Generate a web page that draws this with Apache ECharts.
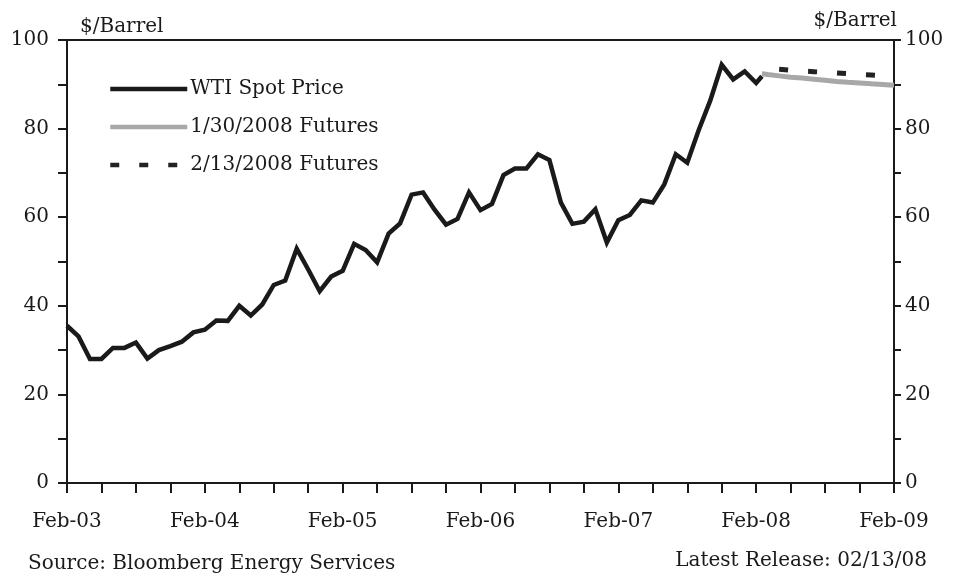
<!DOCTYPE html>
<html>
<head>
<meta charset="utf-8">
<script src="https://cdn.jsdelivr.net/npm/echarts@6/dist/echarts.min.js"></script>
<style>
  html, body { margin: 0; padding: 0; background: #fff; }
  #chart { width: 953px; height: 575px; }
</style>
</head>
<body>
<div id="chart"></div>
<script>
// x axis runs in months counted from Feb-03
const yearLabels = ["Feb-03", "Feb-04", "Feb-05", "Feb-06", "Feb-07", "Feb-08", "Feb-09"];

// WTI spot, monthly Feb-03 .. Feb-08
const spotPrice = [
  35.5, 33.1, 28.0, 28.0, 30.5, 30.5, 31.7, 28.1, 30.0, 30.9, 31.9, 34.0,
  34.6, 36.7, 36.6, 40.0, 37.8, 40.3, 44.7, 45.7, 52.9, 48.2, 43.3, 46.6,
  47.9, 54.0, 52.6, 49.8, 56.3, 58.6, 65.1, 65.6, 61.7, 58.3, 59.6, 65.6,
  61.6, 63.0, 69.5, 71.0, 71.0, 74.2, 72.9, 63.3, 58.5, 59.0, 61.8, 54.3,
  59.3, 60.5, 63.8, 63.3, 67.4, 74.2, 72.3, 79.7, 86.3, 94.4, 91.1, 92.9,
  90.3
];
// latest daily spot (mid Feb-08)
const spotLatestMonth = 60.5;
const spotLatest = 91.8;

// futures curves
const futures0130Months = [60.5, 61, 62, 63, 64, 65, 66, 67, 68, 69, 70, 71, 72];
const futures0130 = [92.4, 92.2, 91.9, 91.6, 91.4, 91.15, 90.9, 90.65, 90.45, 90.3, 90.1, 89.95, 89.8];
const futures0213Months = [62, 63, 64, 65, 66, 67, 68, 69, 70, 71];
const futures0213 = [93.4, 93.2, 93.0, 92.85, 92.7, 92.55, 92.4, 92.25, 92.1, 91.95];

const FONT = "DejaVu Serif";
const INK = "#1a1a1a";

const chart = echarts.init(document.getElementById("chart"), null, { renderer: "canvas" });

const spotData = spotPrice.map((v, i) => [i, v]);
spotData.push([spotLatestMonth, spotLatest]);

function yAxisFor(side) {
  const left = side === "left";
  return {
    type: "value",
    position: side,
    min: 0,
    max: 100,
    interval: 10,
    splitLine: { show: false },
    axisLine: { show: true, lineStyle: { color: INK, width: 2 } },
    axisTick: { show: true, inside: false, length: left ? 9 : 7, lineStyle: { color: INK, width: 2 } },
    axisLabel: {
      color: INK,
      fontFamily: FONT,
      fontSize: 20,
      margin: left ? 18 : 11,
      formatter: (v) => (v % 20 === 0 ? String(v) : "")
    }
  };
}

const textStyle = { fontFamily: FONT, fontSize: 20, fontWeight: "normal", color: INK };

const option = {
  backgroundColor: "#fff",
  animation: false,
  grid: {
    left: 67,
    right: 59,
    top: 40,
    bottom: 92,
    show: true,
    borderColor: INK,
    borderWidth: 2,
    backgroundColor: "transparent"
  },
  title: [
    { text: "$/Barrel", left: 80, top: 17, padding: 0, textStyle },
    { text: "$/Barrel", right: 56, top: 11, padding: 0, textStyle },
    { text: "Source: Bloomberg Energy Services", left: 28, top: 554, padding: 0, textStyle },
    { text: "Latest Release: 02/13/08", right: 26, top: 551, padding: 0, textStyle }
  ],
  legend: {
    orient: "vertical",
    left: 108,
    top: 79,
    padding: 0,
    itemWidth: 77,
    itemHeight: 14,
    itemGap: 18,
    itemStyle: { opacity: 0 },
    lineStyle: { width: 4.5 },
    textStyle: { fontFamily: FONT, fontSize: 20, color: INK, padding: [0, 0, 0, -2] },
    data: ["WTI Spot Price", "1/30/2008 Futures", "2/13/2008 Futures"]
  },
  xAxis: {
    type: "value",
    min: 0,
    max: 72,
    interval: 3,
    splitLine: { show: false },
    axisLine: { show: true, lineStyle: { color: INK, width: 2 } },
    axisTick: { show: true, inside: false, length: 10, lineStyle: { color: INK, width: 2 } },
    axisLabel: {
      color: INK,
      fontFamily: FONT,
      fontSize: 20,
      margin: 29,
      showMinLabel: true,
      showMaxLabel: true,
      formatter: (v) => (v % 12 === 0 ? yearLabels[v / 12] : "")
    }
  },
  yAxis: [yAxisFor("left"), yAxisFor("right")],
  series: [
    {
      name: "WTI Spot Price",
      type: "line",
      symbol: "none",
      data: spotData,
      lineStyle: { color: INK, width: 4.5, join: "miter" },
      itemStyle: { color: INK },
      z: 3
    },
    {
      name: "1/30/2008 Futures",
      type: "line",
      symbol: "none",
      data: futures0130Months.map((m, i) => [m, futures0130[i]]),
      lineStyle: { color: "#a8a8a8", width: 5 },
      itemStyle: { color: "#a8a8a8" },
      z: 2
    },
    {
      name: "2/13/2008 Futures",
      type: "line",
      symbol: "none",
      data: futures0213Months.map((m, i) => [m, futures0213[i]]),
      lineStyle: { color: "#222", width: 5, type: [9, 20] },
      itemStyle: { color: "#222" },
      z: 2
    }
  ]
};

chart.setOption(option);
</script>
</body>
</html>
